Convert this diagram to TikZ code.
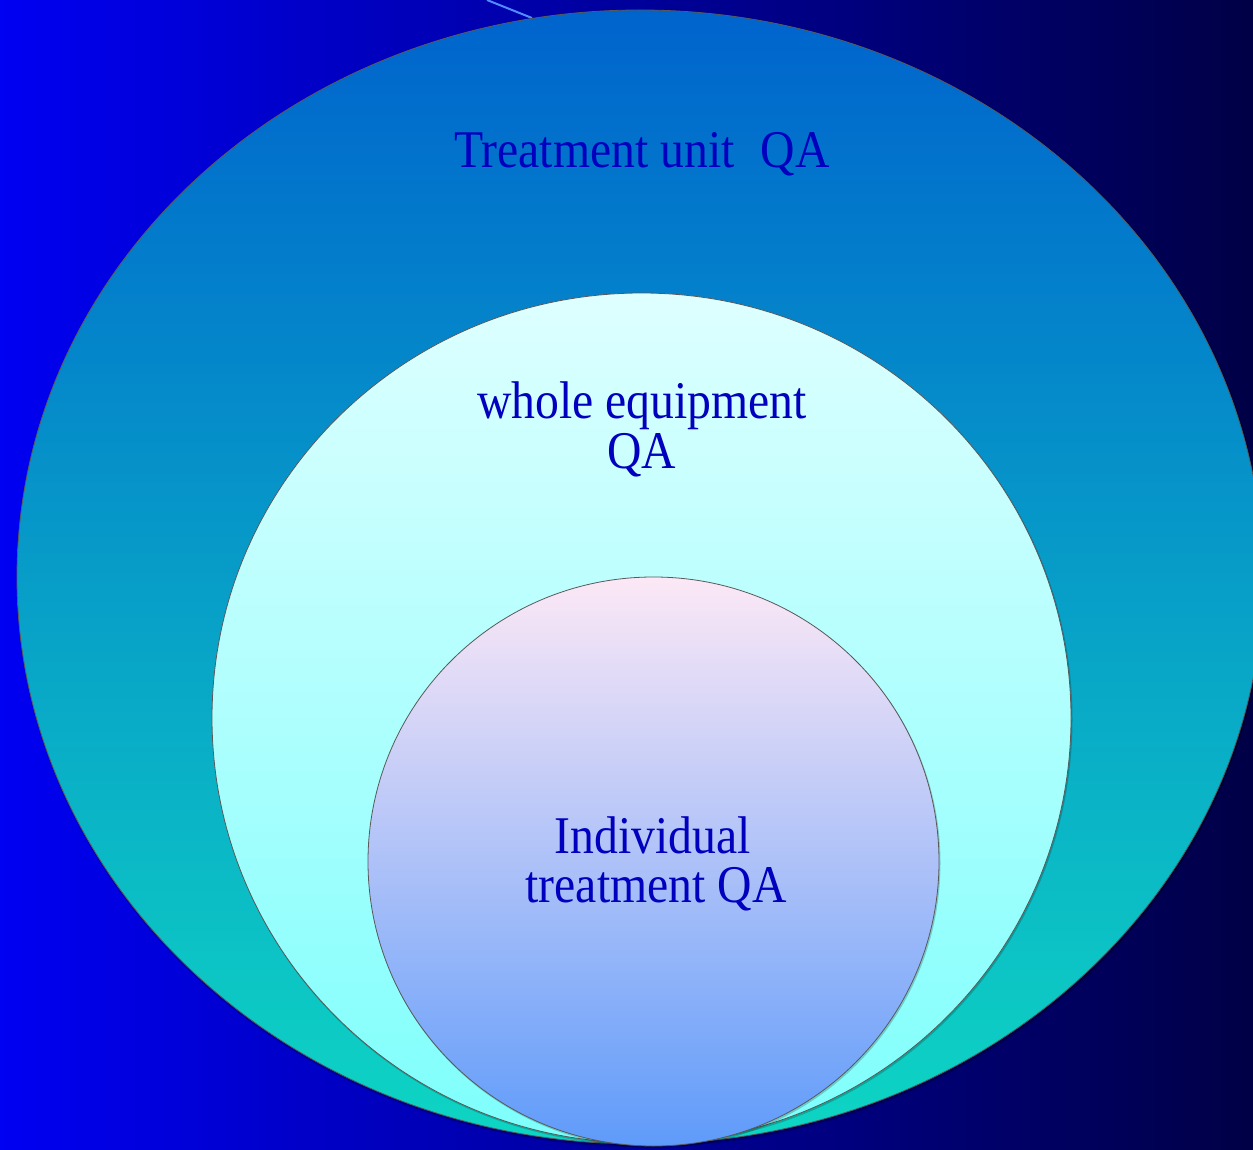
\documentclass[tikz,border=0pt]{standalone}
\usepackage{fontspec}
\setmainfont{Liberation Serif}
\begin{document}
\begin{tikzpicture}[x=1pt,y=-1pt,
  lbl/.style={text=txtblue,font=\fontsize{53}{50}\selectfont,anchor=base,inner sep=0pt},
  rim/.style={draw=black!65,line width=0.8pt}]
\definecolor{txtblue}{RGB}{0,0,190}
\definecolor{bgL}{RGB}{0,0,242}
\definecolor{bgM}{RGB}{0,0,180}
\definecolor{bgR}{RGB}{0,0,70}
\definecolor{outT}{RGB}{0,100,205}
\definecolor{outM}{RGB}{15,160,235}
\definecolor{outB}{RGB}{14,214,195}
\definecolor{midT}{RGB}{222,255,255}
\definecolor{midB}{RGB}{125,255,252}
\definecolor{inT}{RGB}{252,232,246}
\definecolor{inB}{RGB}{95,155,250}
\definecolor{streak}{RGB}{80,140,255}
\newcommand{\cond}[1]{\scalebox{0.9}[1]{#1}}
\useasboundingbox (0,0) rectangle (1253,1150);
\clip (0,0) rectangle (1253,1150);
\shade[left color=bgL,middle color=bgM,right color=bgR] (0,0) rectangle (1253,1150);
\coordinate (s1) at (487,0);
\coordinate (s2) at (532,18);
\draw[streak,line width=2pt] (s1) -- (s2);
% shadows and discs
\fill[black,opacity=0.25] (641,579) ellipse [x radius=624,y radius=568];
\shade[top color=outT,middle color=outM,bottom color=outB,rim] (640,577) ellipse [x radius=623,y radius=567];
\fill[black,opacity=0.2] (642.5,719.5) ellipse [x radius=430,y radius=425.5];
\shade[top color=midT,bottom color=midB,rim] (641.5,718) ellipse [x radius=429.5,y radius=425];
\fill[black,opacity=0.2] (654.5,863) ellipse [x radius=286,y radius=285];
\shade[top color=inT,bottom color=inB,rim] (653.5,861.5) ellipse [x radius=285.5,y radius=284.5];
\node[lbl] (t1) at (642,168) {\cond{Treatment unit\hspace{0.3em} QA}};
\node[lbl] (t2) at (642,418) {\cond{whole equipment}};
\node[lbl] (t3) at (642,468) {\cond{QA}};
\node[lbl] (t4) at (653,853) {\cond{Individual}};
\node[lbl] (t5) at (656,902) {\cond{treatment QA}};
\end{tikzpicture}
\end{document}
